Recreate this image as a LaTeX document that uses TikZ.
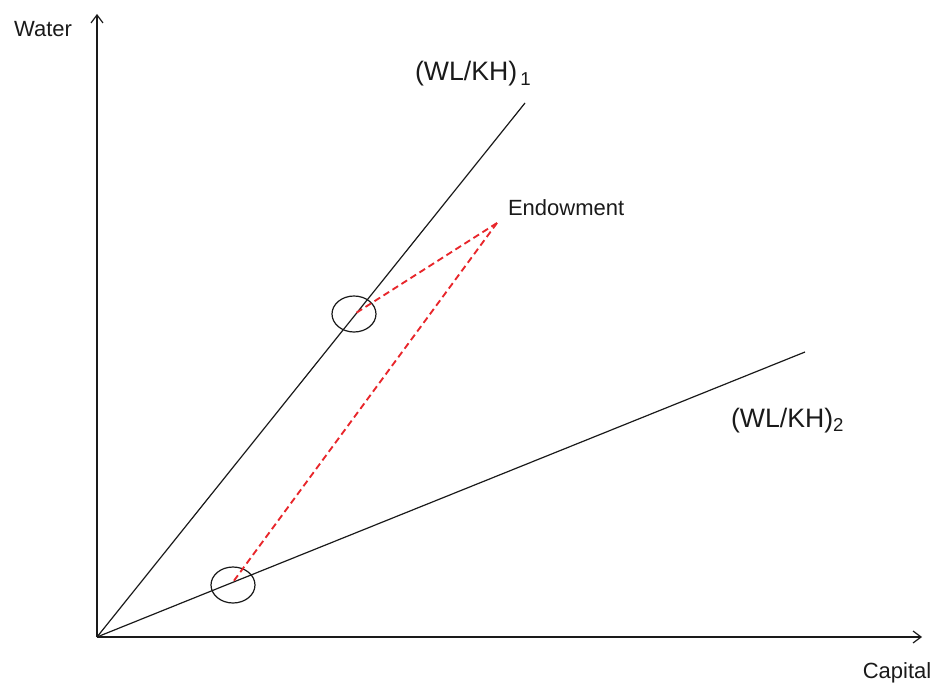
\documentclass[tikz,border=0pt]{standalone}
\usepackage{fontspec}
\setmainfont{Liberation Sans}
\usetikzlibrary{arrows.meta,shapes.geometric}
\definecolor{econRed}{HTML}{E8262B}
\definecolor{econInk}{HTML}{1A1A1A}
\tikzset{
  econ diagram/.style={
    draw=econInk, line width=0.9pt,
    >={Straight Barb[length=6pt,width=9pt]},
    every node/.style={font=\fontsize{16.5}{19}\selectfont,
      text=econInk, inner sep=0pt, outer sep=0pt}
  },
  econ ray/.style={draw=econInk, line width=0.9pt},
  econ link/.style={draw=econRed, line width=1.4pt, dash pattern=on 5pt off 3pt},
  econ ring/.style={draw=econInk, line width=0.9pt, ellipse,
    minimum width=33pt, minimum height=27pt},
  econ big/.style={font=\fontsize{20}{24}\selectfont}
}
\begin{document}
\begin{tikzpicture}[econ diagram,x=0.75pt,y=0.75pt]
    \useasboundingbox (0,0) rectangle (939,687);
    % axes
    \coordinate (O) at (97,50);
    \coordinate (ytop) at (97,673);
    \coordinate (xend) at (922,50);
    \draw[->] (O) -- (ytop);
    \draw[->] (O) -- (xend);
    \node[anchor=base] (water) at (43,650) {Water};
    \node[anchor=base] (capital) at (897,9) {Capital};
    % ratio rays
    \coordinate (r1) at (525,584);
    \coordinate (r2) at (805,335);
    \draw[econ ray] (O) -- (r1);
    \draw[econ ray] (O) -- (r2);
    \node[econ big,anchor=base west] (lab1) at (415,606) {(WL/KH)\textsubscript{\,1}};
    \node[econ big,anchor=base west] (lab2) at (731,260) {(WL/KH)\textsubscript{2}};
    % endowment split
    \coordinate (E) at (497,464);
    \node[anchor=base west] (endow) at (508,471) {Endowment};
    \node[econ ring] (c1) at (354,373) {};
    \node[econ ring] (c2) at (233,102) {};
    \coordinate (p1) at (356,374);
    \coordinate (p2) at (233,105);
    \draw[econ link] (E) -- (p1);
    \draw[econ link] (E) -- (p2);
  \end{tikzpicture}
\end{document}
